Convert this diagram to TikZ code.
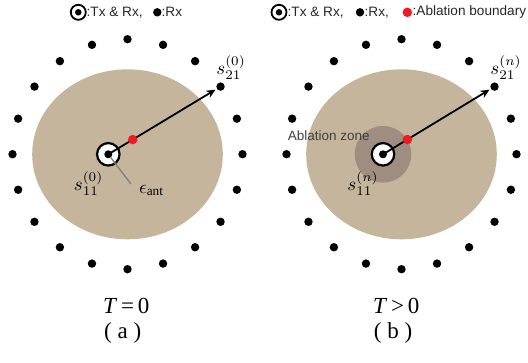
\documentclass[tikz,border=0pt]{standalone}
\usepackage{fontspec}
\setmainfont{Liberation Serif}
\newfontfamily\lsans{Liberation Sans}
\usetikzlibrary{arrows.meta,calc}
\definecolor{tissue}{RGB}{196,181,156}
\definecolor{zone}{RGB}{158,141,128}
\definecolor{abl}{RGB}{237,28,36}
\newcommand{\mlab}[1]{\scalebox{1.9}{$#1$}}
\tikzset{
 rx/.style={circle,fill=black,inner sep=0pt,minimum size=8.4pt},
 txouter/.style={circle,draw=black,line width=2.2pt,fill=white,inner sep=0pt,minimum size=22.5pt},
 txinner/.style={circle,fill=black,inner sep=0pt,minimum size=8pt},
 legtx/.style={circle,draw=black,line width=1.8pt,fill=white,inner sep=0pt,minimum size=15pt},
 legtxin/.style={circle,fill=black,inner sep=0pt,minimum size=6.5pt},
 bnd/.style={circle,fill=abl,inner sep=0pt,minimum size=9.5pt},
 lab/.style={font=\fontsize{10}{10}\selectfont,inner sep=0pt},
 leg/.style={font=\lsans\fontsize{13.6}{14}\selectfont,text=black!85,inner sep=0pt,anchor=west},
 zlab/.style={font=\lsans\fontsize{13.5}{14}\selectfont,text=black!75,inner sep=0pt},
 captext/.style={font=\fontsize{23}{24}\selectfont,inner sep=0pt},
 ray/.style={line width=1.8pt,-{Stealth[length=9pt,width=8pt]},shorten >=1.5pt},
 epsline/.style={draw=gray,line width=1.3pt},
}
\begin{document}
\begin{tikzpicture}[x=1pt,y=-1pt]
\useasboundingbox (0,0) rectangle (528,362);
% ---------- legend ----------
\node[legtx] (lta) at (78.3,12.3) {};
\node[legtxin] (ltai) at (lta.center) {};
\node[leg] (ltta) at (86.5,12.3) {:Tx \& Rx,};
\node[rx] (lra) at (157.3,12.3) {};
\node[leg] (lrta) at (161.5,12.3) {:Rx};
\node[legtx] (ltb) at (279,12.3) {};
\node[legtxin] (ltbi) at (ltb.center) {};
\node[leg] (lttb) at (287.5,12.3) {:Tx \& Rx,};
\node[rx] (lrb) at (360,12.3) {};
\node[leg] (lrtb) at (364.5,12.3) {:Rx,};
\node[bnd] (lbb) at (407.3,12.3) {};
\node[leg] (lbtb) at (412.5,12.3) {:Ablation boundary};
% ---------- panel (a) ----------
\fill[tissue] (127.5,154.3) ellipse [x radius=95.3pt, y radius=85pt];
\foreach \i in {0,...,19}
  \node[rx] (a\i) at ({127.5+115*sin(18*\i)},{154.2-115*cos(18*\i)}) {};
\node[txouter] (txa) at (108.3,154.3) {};
\draw[ray] (txa.center) -- (a3);
\node[txinner] (txai) at (txa.center) {};
\node[bnd] (bnda) at ($(txa.center)!28.5pt!(a3.center)$) {};
\coordinate (epsa) at (131,184);
\draw[epsline] (txai) -- (epsa);
\node[lab] (epslab) at (151.5,190.5) {\mlab{\epsilon_{\mathrm{ant}}}};
\node[lab] (s11a) at (88.5,183.5) {\mlab{s_{11}^{(0)}}};
\node[lab] (s21a) at (231,67.5) {\mlab{s_{21}^{(0)}}};
\node[captext] (ta) at (126.3,305.5) {\textit{T}\,=\,0};
\node[captext] (ca) at (122.7,332.5) {( a )};
% ---------- panel (b) ----------
\fill[tissue] (401.5,154.3) ellipse [x radius=95.3pt, y radius=85pt];
\foreach \i in {0,...,19}
  \node[rx] (b\i) at ({401.5+115*sin(18*\i)},{154.2-115*cos(18*\i)}) {};
\fill[zone] (383,154.3) circle [radius=28.3pt];
\node[zlab] (zl) at (328.7,135.3) {Ablation zone};
\node[txouter] (txb) at (383,154.3) {};
\draw[ray] (txb.center) -- (b3);
\node[txinner] (txbi) at (txb.center) {};
\node[bnd] (bndb) at ($(txb.center)!28.5pt!(b3.center)$) {};
\node[lab] (s11b) at (363,183.5) {\mlab{s_{11}^{(n)}}};
\node[lab] (s21b) at (506,67.5) {\mlab{s_{21}^{(n)}}};
\node[captext] (tb) at (396.3,305.5) {\textit{T}\,>\,0};
\node[captext] (cb) at (393,332.5) {( b )};
\end{tikzpicture}
\end{document}
